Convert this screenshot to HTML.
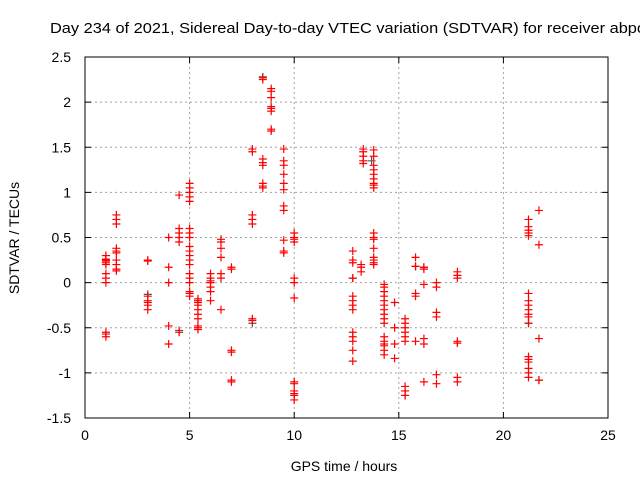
<!DOCTYPE html>
<html><head><meta charset="utf-8"><style>
body{margin:0;background:#fff;}
svg{display:block;font-family:"Liberation Sans",sans-serif;}
</style></head><body>
<svg id="c" width="640" height="480">
<text x="50" y="33" font-size="15" textLength="596" lengthAdjust="spacingAndGlyphs" fill="#000">Day 234 of 2021, Sidereal Day-to-day VTEC variation (SDTVAR) for receiver abpo</text>
<text x="344" y="471" font-size="14" text-anchor="middle">GPS time / hours</text>
<text transform="translate(19,238) rotate(-90)" font-size="14" text-anchor="middle">SDTVAR / TECUs</text>
<g id="grid"></g><g id="pts"></g><g id="axes"></g>
</svg>
<script>
const xTicks=[0,5,10,15,20,25];
const yTicks=[-1.5,-1,-0.5,0,0.5,1,1.5,2,2.5];
const redGroups=[
[1.0,[0.25,0.26,0.24,0.22,0.2,0.1,0.05,0.0,0.3,-0.55,-0.57,-0.6]],
[1.5,[0.75,0.7,0.65,0.38,0.35,0.33,0.25,0.2,0.15,0.13]],
[3.0,[0.25,0.24,-0.15,-0.2,-0.22,-0.25,-0.3]],
[4.0,[0.5,0.17,0.0,-0.48,-0.68]],
[4.5,[0.97,0.6,0.55,0.5,0.45,-0.55]],
[5.0,[1.1,1.05,1.0,0.95,0.9,0.6,0.55,0.5,0.4,0.35,0.3,0.25,0.2,0.1,0.05,0.0,-0.1,-0.12,-0.15]],
[5.4,[-0.2,-0.22,-0.25,-0.3,-0.35,-0.48,-0.5,-0.52,-0.4,-0.18]],
[6.0,[0.1,0.05,0.02,0.0,-0.05,-0.1,-0.2]],
[6.5,[0.48,0.45,0.38,0.28,0.1,0.05,-0.3]],
[7.0,[0.17,0.15,-0.75,-0.77,-1.08,-1.1]],
[8.0,[1.48,1.45,0.75,0.7,0.65,-0.4,-0.42]],
[8.5,[2.27,2.25,1.37,1.33,1.3,1.1,1.07,1.05]],
[8.9,[2.15,2.12,2.05,1.95,1.93,1.9,1.7,1.68]],
[9.5,[1.48,1.35,1.3,1.2,1.1,1.03,0.85,0.8,0.47,0.35,0.33]],
[10.0,[0.55,0.5,0.48,0.45,0.05,0.0,-0.17,-1.1,-1.12,-1.2,-1.23,-1.25,-1.3]],
[12.8,[0.35,0.25,0.22,0.05,-0.15,-0.2,-0.25,-0.3,-0.55,-0.6,-0.65,-0.75,-0.87]],
[13.2,[0.2,0.17,0.12]],
[13.3,[1.48,1.45,1.4,1.35,1.32]],
[13.8,[1.47,1.4,1.3,1.25,1.2,1.15,1.1,1.08,1.05,0.55,0.5,0.48,0.38,0.28,0.25,0.22,0.2]],
[14.3,[-0.02,-0.05,-0.1,-0.15,-0.2,-0.25,-0.3,-0.35,-0.4,-0.45,-0.6,-0.65,-0.68,-0.7,-0.75,-0.8]],
[14.8,[-0.22,-0.5,-0.68,-0.84]],
[15.3,[-0.4,-0.45,-0.5,-0.55,-0.6,-0.65,-1.15,-1.2,-1.25]],
[15.8,[0.28,0.18,-0.12,-0.15,-0.65]],
[16.2,[0.17,0.15,-0.02,-0.62,-0.68,-1.1]],
[16.8,[0.0,-0.05,-0.33,-0.38,-1.02,-1.12]],
[17.8,[0.12,0.08,0.05,-0.65,-0.67,-1.05,-1.1]],
[21.2,[0.7,0.62,0.58,0.55,0.52,-0.12,-0.2,-0.25,-0.3,-0.35,-0.38,-0.45,-0.82,-0.85,-0.88,-0.95,-1.0,-1.05]],
[21.7,[0.8,0.42,-0.62,-1.08]]
];
const grayX=[1.0,3.0,4.5,8.5,13.7,15.3,21.2,21.7,12.8,8.0,16.2,15.8];
const grayY=[0.3,-0.13,-0.53,2.28,1.35,-1.25,-0.45,-1.08,0.05,-0.45,0.17,0.18];
const L=85,R=608,T=57,B=418;
const sx=v=>L+(v-0)/(25-0)*(R-L);
const sy=v=>B-(v+1.5)/4*(B-T);
const NS="http://www.w3.org/2000/svg";
function mk(tag,attrs,parent){const e=document.createElementNS(NS,tag);for(const k in attrs)e.setAttribute(k,attrs[k]);parent.appendChild(e);return e;}
const grid=document.getElementById('grid'),axes=document.getElementById('axes'),pts=document.getElementById('pts');
xTicks.forEach(t=>{const x=sx(t);
 if(t>0&&t<25){const g=mk('line',{x1:x,x2:x,y1:T,y2:B,stroke:'#a0a0a0','stroke-dasharray':'2,3'},grid);
 }
 const tk=mk('line',{x1:x,x2:x,y1:B,y2:B-6,stroke:'#000'},axes);
 
 const tk2=mk('line',{x1:x,x2:x,y1:T,y2:T+6,stroke:'#000'},axes);
 
 const lb=mk('text',{x:x,y:B+22,'font-size':14,'text-anchor':'middle'},axes);lb.textContent=t;
 });
yTicks.forEach(t=>{const y=sy(t);
 if(t>-1.5&&t<2.5){const g=mk('line',{x1:L,x2:R,y1:y,y2:y,stroke:'#a0a0a0','stroke-dasharray':'2,3'},grid);
 }
 const tk=mk('line',{x1:L,x2:L+6,y1:y,y2:y,stroke:'#000'},axes);
 
 const tk2=mk('line',{x1:R,x2:R-6,y1:y,y2:y,stroke:'#000'},axes);
 
 const lb=mk('text',{x:L-14,y:y+5,'font-size':14,'text-anchor':'end'},axes);lb.textContent=t;
 });
const fr=mk('rect',{x:L,y:T,width:R-L,height:B-T,fill:'none',stroke:'#000'},axes);

function cross(x,y,col){const p=mk('path',{d:`M${x-4},${y}H${x+4}M${x},${y-4}V${y+4}`,stroke:col,'stroke-width':1.2,fill:'none'},pts);return p;}
grayX.forEach((v,i)=>{const p=cross(sx(v),sy(grayY[i]),'#555');
 });
redGroups.forEach(g=>g[1].forEach(v=>{const p=cross(sx(g[0]),sy(v),'#ff0000');
 }));
</script>
</body></html>
